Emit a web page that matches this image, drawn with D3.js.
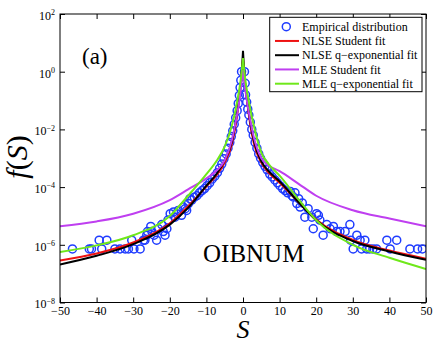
<!DOCTYPE html>
<html>
<head>
<meta charset="utf-8">
<script src="https://cdn.jsdelivr.net/npm/d3@7"></script>
<style>
  body { margin: 0; background: #fff; }
  svg { display: block; }
  text { font-family: "Liberation Serif", "Times New Roman", serif; }
</style>
</head>
<body>
<svg id="chart" width="436" height="343"></svg>
<script>
// S grid used for the four fitted curves
const sGrid = [-50, -40, -30, -20, -15, -10, -7, -5, -3, -2, -1, -0.5, 0, 0.5, 1, 2, 3, 5, 7, 10, 15, 20, 30, 40, 50];

// fitted curves, f(S)
const nlseStudent = [2.88e-7, 5.01e-7, 1.2e-6, 5.62e-6, 2.19e-5, 1.05e-4, 2.82e-4, 7.08e-4, 3.16e-3, 1.41e-2, 0.126, 0.501, 2.82,
  0.501, 0.126, 1.41e-2, 3.16e-3, 7.08e-4, 3.16e-4, 1.41e-4, 3.16e-5, 7.59e-6, 1.48e-6, 6.31e-7, 3.31e-7];
const nlseQexp = [2.09e-7, 4.17e-7, 1.05e-6, 5.0e-6, 1.91e-5, 1.12e-4, 3.16e-4, 8.5e-4, 3.98e-3, 1.78e-2, 0.141, 0.501, 5.25,
  0.501, 0.141, 1.78e-2, 3.98e-3, 7.94e-4, 3.55e-4, 1.58e-4, 3.16e-5, 7.08e-6, 1.35e-6, 5.89e-7, 3.02e-7];
const mleStudent = [4.37e-6, 6.46e-6, 1.2e-5, 3.55e-5, 8.32e-5, 2.0e-4, 3.98e-4, 8.51e-4, 4.47e-3, 1.78e-2, 0.1, 0.316, 1.15,
  0.316, 0.112, 2.0e-2, 5.01e-3, 1.0e-3, 5.62e-4, 3.55e-4, 1.35e-4, 5.01e-5, 1.58e-5, 8.13e-6, 4.37e-6];
const mleQexp = [5.62e-7, 9.55e-7, 2.14e-6, 1.0e-5, 5.01e-5, 2.82e-4, 8.91e-4, 2.51e-3, 1.41e-2, 5.01e-2, 0.251, 0.708, 2.95,
  0.708, 0.251, 5.01e-2, 1.26e-2, 1.58e-3, 6.31e-4, 2.51e-4, 3.98e-5, 7.08e-6, 1.0e-6, 3.55e-7, 1.45e-7];

// empirical distribution (circles)
const empS = [-46.6, -42.0, -41.4, -39.3, -38.6, -37.2, -35.0, -33.6, -32.2, -31.3, -30.4, -29.8, -28.1, -27.2, -26.8, -26.3,
  -26.1, -25.2, -24.9, -24.3, -23.6, -23.1, -22.2, -21.8, -21.3, -20.8, -20.5, -19.9, -19.0, -18.6, -18.1, -17.7, -16.8,
  -16.3, -15.8, -15.4, -14.9, -14.5, -14.0, -13.3, -12.6, -11.9, -11.2, -10.5, -9.8, -9.1, -8.4, -7.7, -7.0, -6.4, -5.8,
  -5.2, -4.6, -4.1, -3.6, -3.2, -2.8, -2.4, -2.0, -1.6, -1.3, -1.0, -0.8, -0.6, -0.4,
  0.4, 0.6, 0.7, 1.0, 1.3, 1.6, 2.0, 2.4, 2.8, 3.3, 3.8, 4.3, 4.8, 5.4, 6.0, 6.6, 7.3, 8.0, 8.7, 9.4, 10.1, 10.8, 11.5,
  12.2, 12.9, 13.4, 13.7, 14.2, 14.7, 15.2, 15.6, 16.2, 16.9, 17.8, 18.8, 19.2, 20.1, 20.6, 21.0, 21.9, 22.9, 23.8, 24.7,
  25.6, 26.5, 27.9, 29.2, 29.4, 30.1, 31.1, 32.0, 32.4, 33.3, 33.8, 34.6, 35.5, 36.5, 39.3, 40.2, 42.0, 45.6, 47.7, 49.0];
const empF = [7.2e-7, 7.2e-7, 7.2e-7, 1.44e-6, 7.2e-7, 1.44e-6, 7.2e-7, 7.2e-7, 7.2e-7, 7.2e-7, 1.44e-6, 7.2e-7, 7.2e-7, 1.44e-6, 1.44e-6, 2.16e-6,
  2.88e-6, 4.32e-6, 2.88e-6, 2.16e-6, 1.44e-6, 3.6e-6, 5.04e-6, 2.88e-6, 2.16e-6, 3.6e-6, 7.2e-6, 1.2e-5, 1.38e-5, 9.1e-6, 1.2e-5, 1.55e-5, 1.05e-5,
  2.04e-5, 1.78e-5, 1.55e-5, 2.69e-5, 3.98e-5, 3.55e-5, 4.47e-5, 5.01e-5, 6.31e-5, 7.59e-5, 8.91e-5, 1.12e-4, 1.41e-4, 1.91e-4, 2.4e-4, 3.16e-4, 4.47e-4, 6.31e-4,
  9.55e-4, 1.41e-3, 2.24e-3, 3.55e-3, 5.62e-3, 8.91e-3, 1.51e-2, 2.51e-2, 4.47e-2, 7.94e-2, 0.151, 0.282, 0.501, 1.0,
  1.0, 0.398, 0.158, 8.91e-2, 5.01e-2, 3.16e-2, 1.78e-2, 1.0e-2, 6.31e-3, 3.55e-3, 2.24e-3, 1.41e-3, 1.0e-3, 7.08e-4, 5.25e-4, 3.98e-4, 2.82e-4, 2.24e-4, 1.78e-4, 1.41e-4, 1.12e-4, 8.91e-5, 7.59e-5,
  6.31e-5, 7.08e-5, 5.01e-5, 4.57e-5, 6.31e-5, 2.69e-5, 3.98e-5, 2.04e-5, 2.82e-5, 9.1e-6, 1.78e-5, 9.1e-6, 3.6e-6, 1.2e-5, 1.05e-5, 7.2e-6, 2.16e-6, 5.04e-6, 3.6e-6, 4.32e-6,
  2.88e-6, 2.88e-6, 2.88e-6, 5.04e-6, 1.44e-6, 7.2e-7, 2.16e-6, 1.44e-6, 7.2e-7, 1.44e-6, 7.2e-7, 7.2e-7, 7.2e-7, 7.2e-7, 1.44e-6, 7.2e-7, 1.44e-6, 7.2e-7, 7.2e-7, 7.2e-7];

const xTicks = [-50, -40, -30, -20, -10, 0, 10, 20, 30, 40, 50];
const yTicks = [1e-8, 1e-6, 1e-4, 1e-2, 1, 1e2];
const yTickExp = ["\u22128", "\u22126", "\u22124", "\u22122", "0", "2"];

const series = [
  { name: "NLSE Student fit", values: nlseStudent, color: "#ee1111" },
  { name: "NLSE q\u2212exponential fit", values: nlseQexp, color: "#000000" },
  { name: "MLE Student fit", values: mleStudent, color: "#bf3ff0" },
  { name: "MLE q\u2212exponential fit", values: mleQexp, color: "#6fe81a" }
];
const empColor = "#1f3cff";

const svg = d3.select("#chart");
const margin = { top: 14, right: 10, bottom: 40.5, left: 60 };
const width = 436 - margin.left - margin.right;
const height = 343 - margin.top - margin.bottom;

const x = d3.scaleLinear().domain([-50, 50]).range([0, width]);
const y = d3.scaleLog().domain([1e-8, 1e2]).range([height, 0]);

const chart = svg.append("g").attr("transform", `translate(${margin.left},${margin.top})`);

chart.append("clipPath").attr("id", "clip")
  .append("rect").attr("width", width).attr("height", height);

// axes, ticks pointing inward
const fmtX = d => (d < 0 ? "\u2212" + Math.abs(d) : d);
chart.append("g").attr("transform", `translate(0,${height})`)
  .call(d3.axisBottom(x).tickValues(xTicks).tickSize(-5).tickPadding(4).tickFormat(fmtX))
  .call(g => g.select(".domain").remove())
  .selectAll("text").attr("font-size", 12).attr("font-family", "Liberation Serif, serif");
chart.append("g")
  .call(d3.axisTop(x).tickValues(xTicks).tickSize(-5).tickFormat(""))
  .call(g => g.select(".domain").remove());
chart.append("g").attr("transform", `translate(${width},0)`)
  .call(d3.axisRight(y).tickValues(yTicks).tickSize(-5).tickFormat(""))
  .call(g => g.select(".domain").remove());

const yAxis = chart.append("g")
  .call(d3.axisLeft(y).tickValues(yTicks).tickSize(-5).tickPadding(5).tickFormat(""))
  .call(g => g.select(".domain").remove());
yAxis.selectAll(".tick text")
  .attr("font-size", 12).attr("font-family", "Liberation Serif, serif").attr("dy", "0.45em")
  .each(function(d, i) {
    const t = d3.select(this);
    t.append("tspan").text("10");
    t.append("tspan").attr("dy", "-0.6em").attr("font-size", 8).text(yTickExp[i]);
  });

chart.selectAll(".tick line").attr("stroke", "#000");

// empirical circles
const plot = chart.append("g").attr("clip-path", "url(#clip)");
plot.selectAll(".emp")
  .data(empS.map((s, i) => ({ s, f: empF[i] })))
  .enter().append("circle")
  .attr("class", "emp")
  .attr("cx", d => x(d.s))
  .attr("cy", d => y(d.f))
  .attr("r", 4)
  .attr("fill", "none")
  .attr("stroke", empColor)
  .attr("stroke-width", 1.5);

// fitted curves, each branch drawn on its own so the cusp stays sharp
const line = d3.line().x(d => x(d.s)).y(d => y(d.f)).curve(d3.curveMonotoneX);
series.forEach(sr => {
  const pts = sGrid.map((s, i) => ({ s, f: sr.values[i] }));
  [pts.filter(d => d.s <= 0), pts.filter(d => d.s >= 0)].forEach(branch => {
    plot.append("path")
      .attr("d", line(branch))
      .attr("fill", "none")
      .attr("stroke", sr.color)
      .attr("stroke-width", 2);
  });
});

// frame
chart.append("rect").attr("width", width).attr("height", height)
  .attr("fill", "none").attr("stroke", "#000").attr("stroke-width", 1);

// legend
const leg = chart.append("g").attr("transform", `translate(${269.7 - margin.left},${17.3 - margin.top})`);
leg.append("rect").attr("width", 152.3).attr("height", 74.4)
  .attr("fill", "#fff").attr("stroke", "#000").attr("stroke-width", 1);
const rowY = i => 9.4 + i * 14.25;
leg.append("circle").attr("cx", 16.6).attr("cy", rowY(0)).attr("r", 4)
  .attr("fill", "none").attr("stroke", empColor).attr("stroke-width", 1.5);
leg.append("text").attr("x", 32.3).attr("y", rowY(0)).attr("dy", "0.35em")
  .attr("font-size", 12).text("Empirical distribution");
series.forEach((sr, i) => {
  leg.append("line").attr("x1", 5.3).attr("x2", 29.3)
    .attr("y1", rowY(i + 1)).attr("y2", rowY(i + 1))
    .attr("stroke", sr.color).attr("stroke-width", 2);
  leg.append("text").attr("x", 32.3).attr("y", rowY(i + 1)).attr("dy", "0.35em")
    .attr("font-size", 12).text(sr.name);
});

// annotations
chart.append("text").attr("x", 82 - margin.left).attr("y", 64 - margin.top)
  .attr("font-size", 23).text("(a)");
chart.append("text").attr("x", 203 - margin.left).attr("y", 262 - margin.top)
  .attr("font-size", 25).text("OIBNUM");

// axis labels
svg.append("text").attr("x", 243).attr("y", 337.5)
  .attr("text-anchor", "middle").attr("font-size", 26).attr("font-style", "italic").text("S");
const yl = svg.append("text").attr("transform", "translate(27,157) rotate(-90)")
  .attr("text-anchor", "middle").attr("font-size", 30);
yl.append("tspan").attr("font-style", "italic").text("f");
yl.append("tspan").text("(");
yl.append("tspan").attr("font-style", "italic").text("S");
yl.append("tspan").text(")");
</script>
</body>
</html>
